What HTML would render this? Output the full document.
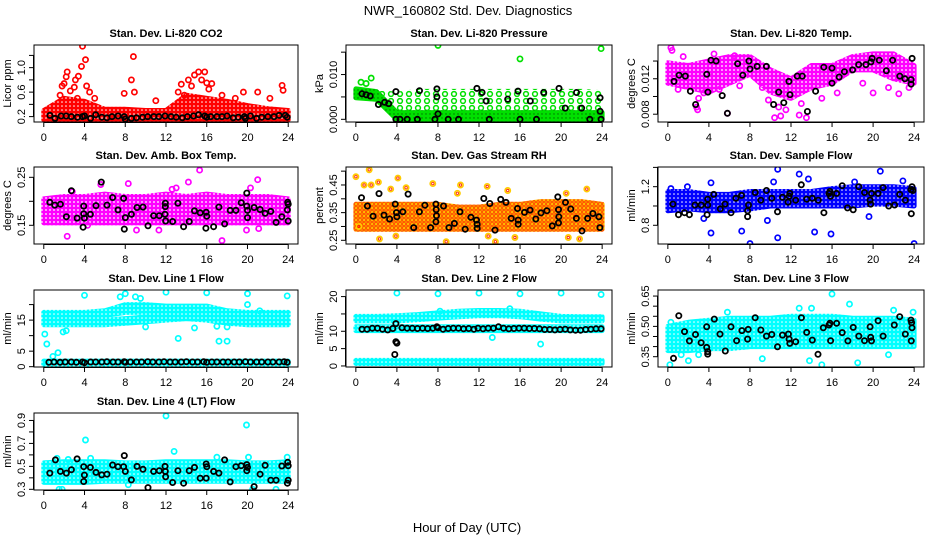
<!DOCTYPE html>
<html><head><meta charset="utf-8"><title>NWR_160802 Std. Dev. Diagnostics</title>
<style>
html,body{margin:0;padding:0;background:#fff;}
svg{display:block;font-family:"Liberation Sans",Arial,sans-serif;}
</style></head>
<body>
<svg id="chart" width="936" height="540" viewBox="0 0 936 540" xmlns="http://www.w3.org/2000/svg">
<defs>
<pattern id="p-red" width="4" height="4" patternUnits="userSpaceOnUse"><rect width="4" height="4" fill="#ff0000"/><circle cx="2" cy="2" r="0.8" fill="#fff"/></pattern>
<pattern id="p-green" width="4" height="4" patternUnits="userSpaceOnUse"><rect width="4" height="4" fill="#00e000"/><circle cx="2" cy="2" r="0.7" fill="#000" opacity="0.5"/></pattern>
<pattern id="p-green-sparse" width="9" height="7" patternUnits="userSpaceOnUse"><circle cx="4" cy="3" r="2.4" fill="none" stroke="#00e000" stroke-width="1.5"/></pattern>
<pattern id="p-mag" width="4" height="4" patternUnits="userSpaceOnUse"><rect width="4" height="4" fill="#ff00ff"/><circle cx="2" cy="2" r="0.9" fill="#fff"/></pattern>
<pattern id="p-rh" width="4" height="4" patternUnits="userSpaceOnUse"><rect width="4" height="4" fill="#ffcc00"/><circle cx="2" cy="2" r="1.3" fill="none" stroke="#ff2000" stroke-width="0.9"/></pattern>
<pattern id="p-blue" width="4" height="4" patternUnits="userSpaceOnUse"><rect width="4" height="4" fill="#0000ff"/><circle cx="2" cy="2" r="0.8" fill="#fff"/></pattern>
<pattern id="p-cyan" width="4" height="4" patternUnits="userSpaceOnUse"><rect width="4" height="4" fill="#00ffff"/><circle cx="2" cy="2" r="0.8" fill="#fff"/></pattern>
</defs>
<text x="468" y="15" text-anchor="middle" font-size="13">NWR_160802  Std. Dev. Diagnostics</text>
<text x="467" y="532" text-anchor="middle" font-size="13">Hour of Day (UTC)</text>
</svg>
<script>
const NS="http://www.w3.org/2000/svg";
const svg=document.getElementById('chart');
const xTicks=[0,4,8,12,16,20,24];
const bandHours=[0,2,4,6,8,10,12,14,16,18,20,22,24];

// CO2
const co2BandLo=[0.15,0.15,0.15,0.15,0.15,0.15,0.15,0.15,0.15,0.15,0.15,0.15,0.15];
const co2BandHi=[0.3,0.5,0.45,0.32,0.32,0.3,0.3,0.55,0.5,0.45,0.38,0.33,0.3];
const co2Outliers=[[3.8,1.35],[4.1,1.13],[3.7,1.02],[2.3,0.93],[3.4,0.86],[8.8,1.18],[8.6,0.8],[8.9,0.6],[7.9,0.58],[13.5,0.73],[14.8,0.88],[15.2,0.93],[15.8,0.93],[16.5,0.74],[19.6,0.6],[21.0,0.6],[23.4,0.71],[23.5,0.63],[11.0,0.46],[4.2,0.7],[1.8,0.7],[2.2,0.85],[3.1,0.8],[14.2,0.8],[16.0,0.75],[1.6,0.55],[2.0,0.74],[2.6,0.62],[3.0,0.68],[3.3,0.5],[4.5,0.6],[5.0,0.5],[13.2,0.6],[13.8,0.55],[14.5,0.7],[15.5,0.8],[16.2,0.65],[17.5,0.55],[18.8,0.5],[22.2,0.5]];
const co2Black=[[0.6,0.22],[1.1,0.17],[1.7,0.21],[2.2,0.21],[2.7,0.2],[3.3,0.19],[3.8,0.2],[4.0,0.21],[4.6,0.17],[5.1,0.23],[5.7,0.19],[6.2,0.18],[6.7,0.2],[7.3,0.21],[7.9,0.2],[8.0,0.16],[8.6,0.17],[9.1,0.18],[9.7,0.19],[10.2,0.2],[10.8,0.2],[11.3,0.2],[11.9,0.21],[12.5,0.2],[13.0,0.19],[13.6,0.18],[14.1,0.2],[14.7,0.21],[15.2,0.23],[15.8,0.21],[16.0,0.19],[16.4,0.2],[17.0,0.2],[17.5,0.2],[18.0,0.21],[18.6,0.18],[19.1,0.19],[19.7,0.2],[19.8,0.17],[20.3,0.21],[20.9,0.17],[21.4,0.19],[22.0,0.2],[22.6,0.2],[23.1,0.22],[23.7,0.22],[23.9,0.19]];

// Pressure
const presBandLo=[0.0048,0.0045,0,0,0,0,0,0,0,0,0,0,0];
const presBandHi=[0.0068,0.0062,0.0015,0.0015,0.0015,0.0015,0.0015,0.0015,0.0015,0.0015,0.0015,0.0015,0.0015];
const presSparseLo=[0.0045,0.004,0.001,0.001,0.001,0.001,0.001,0.001,0.001,0.001,0.001,0.001,0.001];
const presSparseHi=[0.0068,0.0065,0.0062,0.0068,0.0068,0.0068,0.0068,0.0068,0.0068,0.0068,0.0068,0.0068,0.0065];
const presOutliers=[[8,0.0165],[16,0.0135],[23.9,0.0158],[1.5,0.0092],[0.5,0.0083],[1.0,0.008]];
const presBlack=[[0.6,0.0057],[1,0.0055],[1.4,0.0052],[2.2,0.0033],[2.8,0.0038],[3.2,0.0035],[3.9,0.0062],[3.9,0],[4.3,0],[5,0],[6,0],[6.2,0.0064],[7.7,0],[7.9,0.0068],[7.9,0.005],[8,0.0012],[9,0],[10,0],[11.8,0.0069],[12.3,0.006],[12.7,0.0041],[13,0],[14.8,0.0045],[15.8,0.0063],[16,0],[17,0.0041],[17.6,0],[18.3,0.006],[19.8,0.0069],[20.4,0.0025],[21.5,0.006],[22,0.0025],[22.8,0],[23.8,0.0048],[23.8,0.0018],[23.9,0]];

// Li-820 Temp
const tempBandLo=[0.0115,0.011,0.0105,0.0115,0.0125,0.0105,0.0098,0.011,0.0115,0.013,0.013,0.012,0.0115];
const tempBandHi=[0.0138,0.0135,0.014,0.0145,0.0145,0.013,0.012,0.0135,0.0135,0.0145,0.0148,0.0148,0.0135];
const tempOutliers=[[0.3,0.0155],[0.4,0.0152],[2.8,0.0088],[2.9,0.0085],[5.8,0.0081],[10.4,0.0076],[11.0,0.0078],[12.8,0.0079],[13.5,0.0076],[15,0.0098],[19,0.0115],[20,0.0104],[22.5,0.0103],[3.5,0.0104],[1.0,0.0108],[9.2,0.011],[3.0,0.0098],[5.0,0.0108],[7.0,0.0112],[9.8,0.0096],[10.8,0.0088],[11.5,0.0085],[13.0,0.0092],[16.5,0.0104],[21.5,0.011],[23.5,0.011],[1.5,0.0145],[4.5,0.0148],[6.5,0.0146]];
const tempBlack=[[0.6,0.0117],[1.1,0.0124],[1.7,0.0123],[2.2,0.0106],[2.7,0.0091],[3.8,0.0125],[4.2,0.0141],[3.9,0.0105],[4.7,0.014],[5.3,0.0101],[5.8,0.0081],[6.8,0.0137],[7.3,0.0124],[7.9,0.014],[8,0.0131],[8.7,0.0134],[9.6,0.0134],[10.3,0.0091],[10.8,0.0105],[11.3,0.0093],[11.8,0.0117],[11.9,0.0102],[12.6,0.0123],[13.1,0.0123],[13.6,0.0083],[14.4,0.0106],[15.2,0.0133],[16,0.0132],[16,0.0115],[16.7,0.0122],[17.2,0.0128],[18,0.013],[18.6,0.0136],[19.3,0.0136],[19.8,0.0139],[19.9,0.0143],[20.6,0.0141],[21.3,0.0129],[21.9,0.0141],[22.6,0.0123],[23.1,0.012],[23.7,0.0119],[23.7,0.0114],[23.8,0.0143]];

// Amb Box Temp
const ambBandLo=[0.155,0.155,0.155,0.155,0.155,0.155,0.155,0.155,0.155,0.155,0.155,0.155,0.155];
const ambBandHi=[0.205,0.21,0.21,0.215,0.21,0.21,0.215,0.21,0.215,0.21,0.21,0.21,0.205];
const ambOutliers=[[2.3,0.127],[2.8,0.22],[5.6,0.235],[8.3,0.237],[12.6,0.225],[13,0.228],[14.2,0.24],[15.3,0.265],[17.5,0.118],[19.9,0.14],[20.3,0.228],[21,0.245],[11.3,0.14],[9.1,0.14],[4.3,0.15],[21.1,0.143]];
const ambBlack=[[0.59,0.198],[1.08,0.192],[1.63,0.194],[2.22,0.168],[2.71,0.222],[3.27,0.165],[3.92,0.174],[3.92,0.19],[3.99,0.165],[3.86,0.146],[4.58,0.173],[5.13,0.191],[5.65,0.24],[6.21,0.192],[6.76,0.208],[7.29,0.182],[7.84,0.206],[7.91,0.142],[8.0,0.166],[8.6,0.173],[9.15,0.187],[9.74,0.188],[10.23,0.149],[10.78,0.17],[11.34,0.17],[11.9,0.173],[11.93,0.189],[11.93,0.196],[11.96,0.159],[12.65,0.158],[13.17,0.196],[13.73,0.147],[14.28,0.158],[14.8,0.18],[15.36,0.176],[15.95,0.177],[16.01,0.169],[15.92,0.144],[16.67,0.147],[17.19,0.188],[17.75,0.153],[18.3,0.181],[18.86,0.181],[19.38,0.197],[19.93,0.217],[19.93,0.19],[20.0,0.181],[20.0,0.166],[20.65,0.187],[21.24,0.183],[21.73,0.175],[22.29,0.179],[22.81,0.156],[23.37,0.168],[23.92,0.182],[24.0,0.194],[24.0,0.159],[23.95,0.198]];

// Gas Stream RH
const rhBandLo=[0.29,0.29,0.29,0.29,0.29,0.29,0.29,0.29,0.29,0.29,0.29,0.29,0.29];
const rhBandHi=[0.38,0.38,0.38,0.38,0.38,0.37,0.37,0.38,0.38,0.39,0.39,0.39,0.38];
const rhOutliers=[[0,0.48],[1.3,0.505],[0.8,0.45],[2.2,0.46],[3.4,0.435],[4.1,0.475],[4.9,0.44],[7.5,0.455],[10.2,0.45],[12.8,0.445],[14.8,0.43],[22.5,0.435],[2.3,0.255],[8.8,0.245],[13.6,0.245],[21.8,0.255],[3.9,0.265],[15.5,0.26],[20.7,0.26],[9.9,0.42],[20.5,0.42],[1.5,0.45],[0.3,0.3],[12.9,0.265]];
const rhBlack=[[0.55,0.404],[1.13,0.374],[1.68,0.337],[2.26,0.419],[2.74,0.341],[3.29,0.327],[3.83,0.381],[3.96,0.35],[4.0,0.335],[4.57,0.353],[5.09,0.417],[5.64,0.296],[6.19,0.353],[6.73,0.377],[7.28,0.296],[7.8,0.381],[7.8,0.317],[7.86,0.339],[7.83,0.361],[8.54,0.374],[9.08,0.296],[9.6,0.311],[10.15,0.353],[10.66,0.29],[11.21,0.333],[11.76,0.323],[11.82,0.293],[11.82,0.308],[12.47,0.401],[13.05,0.383],[13.56,0.287],[14.11,0.398],[14.63,0.387],[15.14,0.329],[15.75,0.365],[15.82,0.323],[15.82,0.308],[16.43,0.351],[16.98,0.359],[17.53,0.327],[18.04,0.349],[18.62,0.357],[19.14,0.302],[19.68,0.407],[19.75,0.361],[19.75,0.313],[19.78,0.335],[20.43,0.387],[20.94,0.363],[21.49,0.329],[22.04,0.284],[22.58,0.329],[23.1,0.347],[23.68,0.335],[23.78,0.296]];

// Sample Flow
const sfBandLo=[0.95,0.97,0.95,0.95,0.97,1.0,1.0,1.0,1.0,1.0,1.02,1.02,1.0];
const sfBandHi=[1.15,1.15,1.12,1.12,1.15,1.15,1.15,1.15,1.18,1.2,1.2,1.2,1.18];
const sfOutliers=[[4.2,0.72],[7.2,0.74],[8,0.61],[10.7,0.67],[10.7,1.38],[12.8,1.33],[14.3,0.73],[15.9,0.71],[24,0.61],[20.7,1.36],[13.7,1.28],[1.9,1.2],[9.7,0.85],[19.6,0.89],[3.5,0.87],[0.3,1.18],[22.9,1.26],[18.2,1.25],[4.2,1.24],[10.3,1.25]];
const sfBlack=[[0.49,1.02],[1.04,0.91],[1.62,0.93],[2.1,0.91],[2.65,1.01],[3.24,1.01],[3.82,0.91],[3.88,1.07],[3.88,1.01],[4.47,1.12],[5.11,0.97],[5.57,1.02],[6.15,0.93],[6.63,1.08],[7.18,1.11],[7.77,0.95],[7.86,1.01],[7.77,0.89],[8.51,1.14],[9.06,1.06],[9.61,1.16],[10.13,1.08],[10.68,0.94],[11.17,1.09],[11.72,1.04],[11.81,1.1],[11.88,1.13],[12.46,1.06],[13.0,1.22],[13.53,1.07],[14.08,1.08],[14.66,1.06],[15.21,0.93],[15.7,1.13],[15.79,1.15],[15.86,1.1],[16.44,1.13],[16.99,1.21],[17.51,0.98],[18.06,0.96],[18.61,1.2],[19.16,1.14],[19.71,1.06],[19.77,1.02],[19.84,1.13],[20.49,1.13],[20.97,1.19],[21.52,1.0],[22.1,1.01],[22.59,1.12],[23.14,1.06],[23.69,1.17],[23.72,0.92],[23.79,1.2],[23.88,1.16]];

// Line 1 Flow
const l1UpperLo=[16,16,16.3,16.5,17.5,17.5,17,17,17.5,16,16.5,16.5,16.5];
const l1UpperHi=[17.5,17.5,17.5,18,20,20,19.5,19.5,19.5,18,17.5,17.5,17.5];
const l1MidLo=[13.5,13.5,13.5,13.5,14,14.5,15,15.5,15,14,13.5,13.5,13.5];
const l1MidHi=[15,15,15,15,15.5,16,16.5,17,16.5,15.5,15,15,15];
const l1LowLo=[0.6,0.6,0.6,0.6,0.6,0.6,0.6,0.6,0.6,0.6,0.6,0.6,0.6];
const l1LowHi=[1.8,1.8,1.8,1.8,1.8,1.8,1.8,1.8,1.8,1.8,1.8,1.8,1.8];
const l1Outliers=[[0.1,10.5],[0.3,7.3],[0.9,3.3],[1.4,4.5],[1.9,11.2],[2.2,11.6],[4,23],[7.5,22.5],[8,23.5],[9,22.5],[9.5,22],[12,24],[16,23.8],[20,23.5],[23.9,22.8],[10,12.8],[13.2,9.1],[14.8,12.5],[17.2,8.2],[18,8.2],[17,13],[18,12.8],[20,20],[21.2,18]];
const l1Black=[[0.5,1.4],[1.0,1.5],[1.6,1.4],[2.1,1.5],[2.7,1.5],[3.2,1.4],[3.8,1.5],[4.0,1.3],[4.6,1.5],[5.1,1.5],[5.7,1.5],[6.2,1.6],[6.8,1.5],[7.3,1.5],[7.9,1.6],[8.0,1.4],[8.5,1.5],[9.1,1.5],[9.6,1.5],[10.2,1.6],[10.7,1.5],[11.3,1.5],[11.8,1.6],[12.4,1.5],[12.9,1.5],[13.5,1.5],[14.0,1.6],[14.6,1.5],[15.1,1.5],[15.7,1.6],[16.0,1.4],[16.5,1.5],[17.0,1.5],[17.6,1.5],[18.1,1.5],[18.7,1.5],[19.2,1.5],[19.8,1.6],[20.3,1.5],[20.9,1.5],[21.4,1.5],[22.0,1.5],[22.5,1.5],[23.1,1.5],[23.6,1.6],[23.9,1.4]];

// Line 2 Flow
const l2UpperLo=[13,13,13,13.3,13.8,14.2,14.5,14.5,14.2,13.5,13,13,13];
const l2UpperHi=[14.3,14.3,14.5,14.8,15.3,15.8,16,16,15.8,15,14.3,14.2,14.2];
const l2MidLo=[10.2,10.2,10.2,10.2,10.2,10.2,10.2,10.2,10.2,10.2,10.2,10.2,10.2];
const l2MidHi=[11.3,11.3,11.3,11.3,11.3,11.3,11.3,11.3,11.3,11.3,11.3,11.3,11.3];
const l2LowLo=[0.7,0.7,0.7,0.7,0.7,0.7,0.7,0.7,0.7,0.7,0.7,0.7,0.7];
const l2LowHi=[1.6,1.6,1.6,1.6,1.6,1.6,1.6,1.6,1.6,1.6,1.6,1.6,1.6];
const l2Outliers=[[4,21],[8,20.8],[12,21],[16,20.8],[20,21],[23.9,20.6],[13.3,8.2],[18,6.3],[8.2,15.8],[15,16.5]];
const l2Black=[[0.6,10.6],[1.1,10.6],[1.6,10.9],[2.1,10.9],[2.6,10.6],[3.1,10.4],[3.6,10.8],[3.9,12.2],[3.9,7.0],[4.0,6.6],[3.8,3.3],[4.5,11.0],[5.0,10.9],[5.5,10.9],[6.0,10.8],[6.5,10.9],[7.0,10.8],[7.5,10.9],[7.9,11.3],[8.0,11.0],[8.5,10.6],[9.0,10.8],[9.5,10.9],[10.0,10.9],[10.5,10.7],[11.0,10.8],[11.5,10.6],[11.9,10.9],[12.4,10.7],[12.9,10.9],[13.4,10.9],[13.9,11.3],[14.4,10.9],[14.9,10.7],[15.4,10.8],[15.9,10.9],[16.4,10.9],[16.9,10.8],[17.4,10.8],[17.9,10.7],[18.4,10.5],[18.9,10.5],[19.4,10.4],[19.9,10.5],[20.4,10.6],[20.9,10.4],[21.4,10.3],[21.9,10.3],[22.4,10.5],[22.9,10.6],[23.4,10.7],[23.9,10.7]];

// Line 3 Flow
const l3BandLo=[0.38,0.38,0.39,0.39,0.4,0.4,0.4,0.4,0.4,0.4,0.4,0.4,0.4];
const l3BandHi=[0.5,0.52,0.53,0.54,0.54,0.54,0.55,0.55,0.55,0.54,0.54,0.54,0.53];
const l3Outliers=[[0.2,0.31],[1.3,0.36],[2,0.33],[9.2,0.34],[13.8,0.33],[15,0.31],[16,0.66],[17.7,0.61],[18.5,0.32],[14,0.59],[22,0.58],[23.9,0.57],[5.8,0.57],[12.8,0.59],[21.5,0.36],[0.3,0.52],[3,0.36]];
const l3Black=[[0.55,0.342],[1.07,0.553],[1.62,0.474],[2.1,0.428],[2.69,0.46],[3.24,0.419],[3.79,0.498],[3.79,0.396],[3.88,0.375],[3.88,0.363],[4.53,0.536],[5.08,0.462],[5.6,0.378],[6.15,0.498],[6.7,0.429],[7.22,0.479],[7.83,0.485],[7.77,0.437],[8.51,0.543],[9.06,0.482],[9.61,0.452],[10.13,0.46],[10.68,0.399],[11.17,0.457],[11.75,0.462],[11.81,0.437],[11.88,0.416],[12.46,0.424],[13.01,0.543],[13.53,0.47],[14.08,0.432],[14.63,0.362],[15.15,0.493],[15.7,0.507],[15.79,0.515],[15.86,0.429],[16.44,0.515],[16.99,0.469],[17.54,0.428],[18.06,0.495],[18.61,0.452],[19.16,0.429],[19.71,0.498],[19.77,0.446],[19.84,0.428],[20.49,0.528],[20.97,0.452],[22.07,0.507],[22.59,0.548],[23.14,0.462],[23.69,0.531],[23.72,0.428],[23.79,0.493],[23.75,0.518]];

// Line 4 (LT) Flow
const l4BandLo=[0.36,0.36,0.36,0.37,0.37,0.37,0.37,0.37,0.37,0.37,0.37,0.37,0.37];
const l4BandHi=[0.53,0.54,0.54,0.54,0.53,0.53,0.54,0.54,0.54,0.54,0.53,0.53,0.54];
const l4Outliers=[[4.1,0.73],[12,0.94],[12.8,0.63],[19.9,0.86],[17,0.58],[23.9,0.58],[1.5,0.3],[1.8,0.3],[20.5,0.3],[22.8,0.3],[8.3,0.34],[2.4,0.56],[20.1,0.58],[1.3,0.57],[4.6,0.57]];
const l4Black=[[0.59,0.441],[1.14,0.556],[1.63,0.456],[2.22,0.441],[2.71,0.471],[3.27,0.565],[3.92,0.497],[3.92,0.368],[3.99,0.424],[4.58,0.491],[5.13,0.447],[5.69,0.426],[6.21,0.432],[6.76,0.512],[7.29,0.497],[7.84,0.497],[7.91,0.594],[8.0,0.456],[8.6,0.382],[9.15,0.5],[9.74,0.474],[10.23,0.315],[10.78,0.456],[11.34,0.462],[11.9,0.5],[11.93,0.456],[11.96,0.409],[12.65,0.359],[13.17,0.462],[13.73,0.353],[14.28,0.462],[14.8,0.491],[15.36,0.397],[15.95,0.521],[16.01,0.497],[15.95,0.397],[16.67,0.456],[17.19,0.441],[17.75,0.556],[18.3,0.365],[18.86,0.497],[19.38,0.506],[19.93,0.462],[19.93,0.515],[20.0,0.491],[20.65,0.324],[21.24,0.432],[21.73,0.509],[22.29,0.379],[22.81,0.379],[23.37,0.503],[23.92,0.353],[24.0,0.379],[24.0,0.506],[23.95,0.535]];

const colLeft=[34,346,658], colWidth=[264,266,266];
const rowTop=[45,167,290,413], boxH=77;

const panels=[
 {key:'co2',title:'Stan. Dev. Li-820 CO2',ylab:'Licor ppm',col:0,row:0,ymin:0.112,ymax:1.37,ticks:[0.2,0.4,0.6,0.8,1.0,1.2],labels:{'0.2':'0.2','0.6':'0.6','1':'1.0'},color:'#ff0000',bands:[[co2BandLo,co2BandHi,'p-red']],out:co2Outliers,black:co2Black},
 {key:'pressure',title:'Stan. Dev. Li-820 Pressure',ylab:'kPa',col:1,row:0,ymin:-0.0006,ymax:0.0166,ticks:[0,0.005,0.01,0.015],labels:{'0':'0.000','0.01':'0.010'},color:'#00e000',bands:[[presSparseLo,presSparseHi,'p-green-sparse',true],[presBandLo,presBandHi,'p-green']],out:presOutliers,black:presBlack},
 {key:'li820-temp',title:'Stan. Dev. Li-820 Temp.',ylab:'degrees C',col:2,row:0,ymin:0.00712,ymax:0.01581,ticks:[0.008,0.01,0.012,0.014],labels:{'0.008':'0.008','0.012':'0.012'},color:'#ff00ff',bands:[[tempBandLo,tempBandHi,'p-mag']],out:tempOutliers,black:tempBlack},
 {key:'amb-temp',title:'Stan. Dev. Amb. Box Temp.',ylab:'degrees C',col:0,row:1,ymin:0.111,ymax:0.2715,ticks:[0.15,0.2,0.25],labels:{'0.15':'0.15','0.25':'0.25'},color:'#ff00ff',bands:[[ambBandLo,ambBandHi,'p-mag']],out:ambOutliers,black:ambBlack},
 {key:'rh',title:'Stan. Dev. Gas Stream RH',ylab:'percent',col:1,row:1,ymin:0.2366,ymax:0.515,ticks:[0.25,0.3,0.35,0.4,0.45,0.5],labels:{'0.25':'0.25','0.35':'0.35','0.45':'0.45'},color:'#ff9900',bands:[[rhBandLo,rhBandHi,'p-rh']],out:rhOutliers,black:rhBlack,outStroke:'#ffcc00',outInner:'#ff2000'},
 {key:'sample-flow',title:'Stan. Dev. Sample Flow',ylab:'ml/min',col:2,row:1,ymin:0.606,ymax:1.404,ticks:[0.8,1.0,1.2,1.4],labels:{'0.8':'0.8','1.2':'1.2'},color:'#0000ff',bands:[[sfBandLo,sfBandHi,'p-blue']],out:sfOutliers,black:sfBlack},
 {key:'line1',title:'Stan. Dev. Line 1 Flow',ylab:'ml/min',col:0,row:2,ymin:-0.1,ymax:24.7,ticks:[0,5,10,15,20],labels:{'0':'0','5':'5','15':'15'},color:'#00ffff',bands:[[l1UpperLo,l1UpperHi,'p-cyan'],[l1MidLo,l1MidHi,'p-cyan'],[l1LowLo,l1LowHi,'p-cyan']],out:l1Outliers,black:l1Black},
 {key:'line2',title:'Stan. Dev. Line 2 Flow',ylab:'ml/min',col:1,row:2,ymin:-0.3,ymax:21.9,ticks:[0,5,10,15,20],labels:{'0':'0','5':'5','10':'10','20':'20'},color:'#00ffff',bands:[[l2UpperLo,l2UpperHi,'p-cyan'],[l2MidLo,l2MidHi,'p-cyan'],[l2LowLo,l2LowHi,'p-cyan']],out:l2Outliers,black:l2Black},
 {key:'line3',title:'Stan. Dev. Line 3 Flow',ylab:'ml/min',col:2,row:2,ymin:0.299,ymax:0.68,ticks:[0.35,0.4,0.45,0.5,0.55,0.6,0.65],labels:{'0.35':'0.35','0.5':'0.50','0.65':'0.65'},color:'#00ffff',bands:[[l3BandLo,l3BandHi,'p-cyan']],out:l3Outliers,black:l3Black},
 {key:'line4',title:'Stan. Dev. Line 4 (LT) Flow',ylab:'ml/min',col:0,row:3,ymin:0.294,ymax:0.965,ticks:[0.3,0.4,0.5,0.6,0.7,0.8,0.9],labels:{'0.3':'0.3','0.5':'0.5','0.7':'0.7','0.9':'0.9'},color:'#00ffff',bands:[[l4BandLo,l4BandHi,'p-cyan']],out:l4Outliers,black:l4Black}
];

function mk(tag,attrs,parent){const e=document.createElementNS(NS,tag);for(const k in attrs)e.setAttribute(k,attrs[k]);(parent||svg).appendChild(e);return e;}

panels.forEach(p=>{
  const L=colLeft[p.col], W=colWidth[p.col], T=rowTop[p.row], B=T+boxH;
  const xs=h=>L+W*(h+0.96)/25.92;
  const ys=v=>B-(v-p.ymin)/(p.ymax-p.ymin)*boxH;
  const g=mk('g',{});
  
  
  const cp=mk('clipPath',{id:'clip-'+p.key},g);
  mk('rect',{x:L,y:T,width:W,height:boxH},cp);
  const plot=mk('g',{'clip-path':'url(#clip-'+p.key+')'},g);
  
  
  p.bands.forEach((b,bi)=>{
    const lo=b[0],hi=b[1];
    let d='';
    bandHours.forEach((h,i)=>{d+=(i?'L':'M')+xs(h).toFixed(1)+' '+ys(hi[i]).toFixed(1);});
    for(let i=bandHours.length-1;i>=0;i--){d+='L'+xs(bandHours[i]).toFixed(1)+' '+ys(lo[i]).toFixed(1);}
    d+='Z';
    const sparse=b[3];
    const path=mk('path',{d:d,fill:'url(#'+b[2]+')',stroke:sparse?'none':'url(#'+b[2]+')','stroke-width':5,'stroke-linejoin':'round'},plot);
    
    
  });
  p.out.forEach(pt=>{
    const c=mk('circle',{cx:xs(pt[0]).toFixed(1),cy:ys(pt[1]).toFixed(1),r:2.6,fill:'none',stroke:p.outStroke||p.color,'stroke-width':1.7},plot);
    
    
    if(p.outInner){const c2=mk('circle',{cx:xs(pt[0]).toFixed(1),cy:ys(pt[1]).toFixed(1),r:1.2,fill:'none',stroke:p.outInner,'stroke-width':0.8},plot);
      
      }
  });
  p.black.forEach(pt=>{
    const c=mk('circle',{cx:xs(pt[0]).toFixed(1),cy:ys(pt[1]).toFixed(1),r:2.6,fill:'none',stroke:'#000','stroke-width':1.8},plot);
    
    
  });
  const box=mk('rect',{x:L,y:T,width:W,height:boxH,fill:'none',stroke:'#000','stroke-width':1},g);
  
  
  const t=mk('text',{x:L+W/2,y:T-8,'text-anchor':'middle','font-size':11,'font-weight':'bold'},g);
  t.textContent=p.title;
  
  
  const xa=mk('g',{},g);
  
  
  mk('line',{x1:xs(0),x2:xs(24),y1:B+0.5,y2:B+0.5,stroke:'#000'},xa);
  xTicks.forEach(h=>{
    mk('line',{x1:xs(h),x2:xs(h),y1:B,y2:B+5,stroke:'#000'},xa);
    const tl=mk('text',{x:xs(h),y:B+19,'text-anchor':'middle','font-size':11},xa);
    tl.textContent=h;
    
    
  });
  const ya=mk('g',{},g);
  
  
  mk('line',{x1:L-0.5,x2:L-0.5,y1:ys(p.ticks[0]),y2:ys(p.ticks[p.ticks.length-1]),stroke:'#000'},ya);
  p.ticks.forEach(v=>{
    const y=ys(v);
    mk('line',{x1:L-5,x2:L,y1:y,y2:y,stroke:'#000'},ya);
    const lab=p.labels[String(v)];
    if(lab){
      const tl=mk('text',{x:0,y:0,'text-anchor':'middle','font-size':11,transform:'translate('+(L-9)+','+y.toFixed(1)+') rotate(-90)'},ya);
      tl.textContent=lab;
      
      
    }
  });
  const yl=mk('text',{x:0,y:0,'text-anchor':'middle','font-size':11,transform:'translate('+(L-23)+','+(T+boxH/2)+') rotate(-90)'},g);
  yl.textContent=p.ylab;
  
  
});
</script>
</body></html>
